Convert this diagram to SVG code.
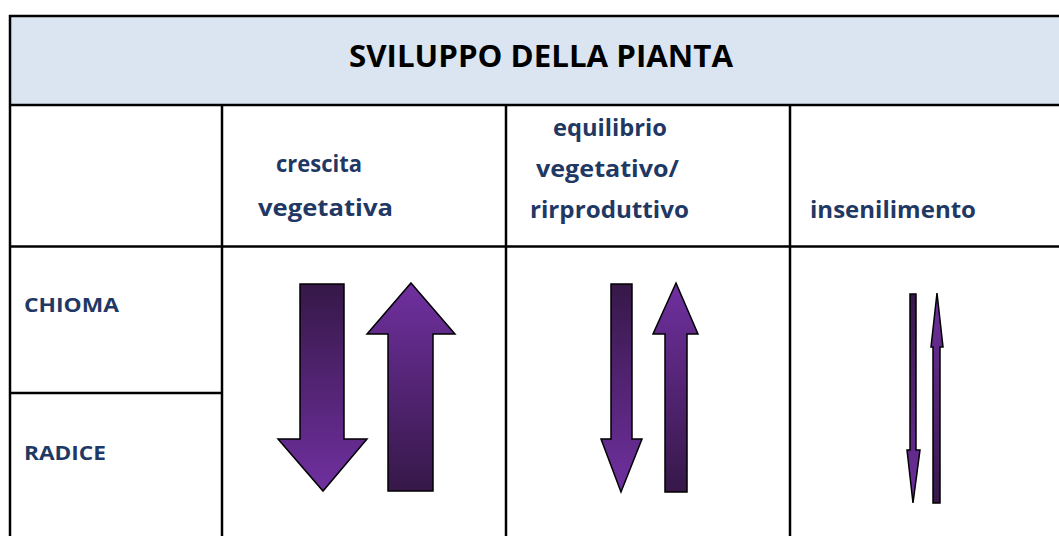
<svg xmlns="http://www.w3.org/2000/svg" width="1059" height="536" viewBox="0 0 1059 536">
<defs>
<linearGradient id="gDown" x1="0" y1="0" x2="0" y2="1">
<stop offset="0" stop-color="#361848"/>
<stop offset="1" stop-color="#7030a0"/>
</linearGradient>
<linearGradient id="gUp" x1="0" y1="0" x2="0" y2="1">
<stop offset="0" stop-color="#7030a0"/>
<stop offset="1" stop-color="#361848"/>
</linearGradient>
<style>
.grid{stroke:#000;stroke-width:2.5;fill:none}
.hd{font-family:"Open Sans","Liberation Sans",sans-serif;font-weight:bold;fill:#1f3864;font-size:23px}
.rw{font-family:"Open Sans","Liberation Sans",sans-serif;font-weight:bold;fill:#1f3864;font-size:19px}
.ttl{font-family:"Open Sans","Liberation Sans",sans-serif;font-weight:bold;fill:#000;font-size:31px}
.dn{fill:url(#gDown);stroke:#000;stroke-width:1.5;stroke-linejoin:miter}
.up{fill:url(#gUp);stroke:#000;stroke-width:1.5;stroke-linejoin:miter}
</style>
</defs>
<rect width="1059" height="536" fill="#fff"/>
<g id="header">
<rect x="10" y="16" width="1049" height="89" fill="#dbe5f1"/>
<text class="ttl" x="541" y="67" text-anchor="middle" textLength="384" lengthAdjust="spacingAndGlyphs">SVILUPPO DELLA PIANTA</text>
</g>
<g id="grid">
<path class="grid" d="M1059 16H10V536M10 105H1059M10 246.5H1059M10 393H222M222 105V536M506 105V536M790 105V536"/>
</g>
<g id="col-crescita">
<text class="hd" x="276" y="172" textLength="86" lengthAdjust="spacingAndGlyphs">crescita</text>
<text class="hd" x="258" y="216" textLength="135" lengthAdjust="spacingAndGlyphs">vegetativa</text>
</g>
<g id="col-equilibrio">
<text class="hd" x="553" y="136" textLength="114" lengthAdjust="spacingAndGlyphs">equilibrio</text>
<text class="hd" x="536" y="177" textLength="143" lengthAdjust="spacingAndGlyphs">vegetativo/</text>
<text class="hd" x="530" y="218" textLength="159" lengthAdjust="spacingAndGlyphs">rirproduttivo</text>
</g>
<g id="col-insenilimento">
<text class="hd" x="810" y="218" textLength="166" lengthAdjust="spacingAndGlyphs">insenilimento</text>
</g>
<g id="row-chioma"><text class="rw" x="24" y="312" textLength="95" lengthAdjust="spacingAndGlyphs">CHIOMA</text></g>
<g id="row-radice"><text class="rw" x="24" y="460" textLength="82" lengthAdjust="spacingAndGlyphs">RADICE</text></g>
<g id="arrows">
<path class="dn" d="M300 284H344V439H367L323 491L278 439H300Z"/>
<path class="up" d="M411 283L455 334H433V491H388V334H367Z"/>
<path class="dn" d="M611 284H632V439H642L621 492L601 439H611Z"/>
<path class="up" d="M676 283L698 334H687V492H665V334H653Z"/>
<path class="dn" d="M910 294H916V450H920L913 503L907 450H910Z"/>
<path class="up" d="M937 293L943 347H940V503H933V347H931Z"/>
</g>
</svg>
